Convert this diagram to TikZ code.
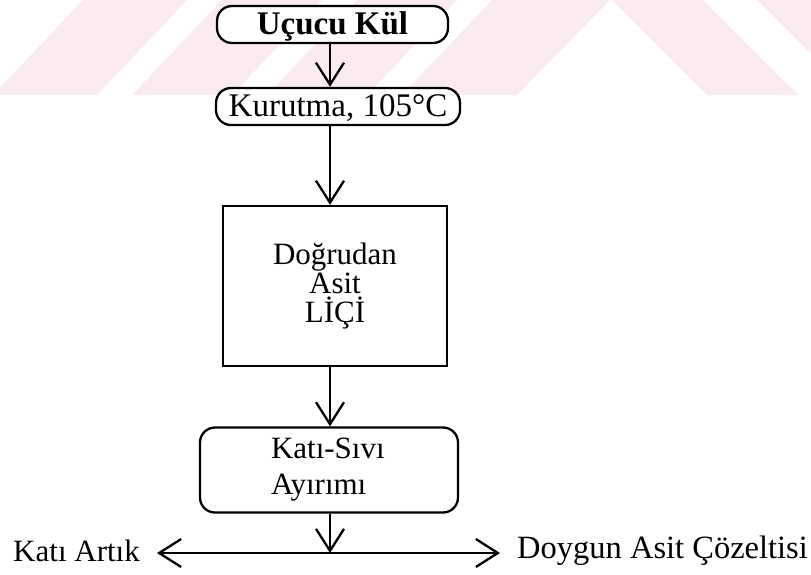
\documentclass[tikz,border=0pt]{standalone}
\usepackage{fontspec}
\setmainfont{Liberation Serif}
\usetikzlibrary{arrows.meta}

\begin{document}
\begin{tikzpicture}[x=1pt,y=-1pt,
	box/.style={draw, line width=2.3pt, fill=white, inner sep=0pt, font=\fontsize{31}{29}\selectfont},
	roundbox/.style={box, rounded corners=15pt},
	linebox/.style={roundbox, minimum height=37pt, text height=21pt, text depth=0pt, font=\fontsize{33}{36}\selectfont},
	flow/.style={line width=2.3pt, -{Straight Barb[length=22pt,width=28pt]}},
	sidetext/.style={inner sep=0pt, font=\fontsize{31}{36}\selectfont}]
	\definecolor{cMark}{HTML}{FCEBEE}

	\useasboundingbox (0,0) rectangle (811,575);

	\begin{scope}
		\clip (0,0) rectangle (811,95);
		\fill[cMark] (-7,95) -- (83,0) -- (187,0) -- (97,95) -- cycle;
		\fill[cMark] (132,95) -- (222,0) -- (322,0) -- (232,95) -- cycle;
		\fill[cMark] (267,95) -- (357,0) -- (457,0) -- (367,95) -- cycle;
		\fill[cMark] (402,95) -- (492,0) -- (610,0) -- (517,95) -- cycle;
		\fill[cMark] (612,0) -- (703,0) -- (798,95) -- (707,95) -- cycle;
		\fill[cMark] (757,0) -- (850,0) -- (945,95) -- (852,95) -- cycle;
	\end{scope}

	\coordinate (spine) at (330,0);
	\coordinate (split) at (330,553);

	\node[linebox, minimum width=231pt, font={\bfseries\fontsize{33}{36}\selectfont}] (kul) at (332.5,24.5) {Uçucu Kül};
	\node[linebox, minimum width=244pt] (kurutma) at (338,106.5) {Kurutma, 105°C};
	\node[box, minimum width=224pt, minimum height=160pt, align=center] (lic) at (335,286) {Doğrudan\\Asit\\LİÇİ};
	\node[roundbox, minimum width=258pt, minimum height=85pt, text width=116pt, align=left, font=\fontsize{31}{36}\selectfont] (ayirim) at (329,470) {Katı-Sıvı\\Ayırımı};

	\node[sidetext, anchor=east] (artik) at (140,551) {Katı Artık};
	\node[sidetext, anchor=west, font=\fontsize{32.5}{36}\selectfont] (cozelti) at (517,551) {Doygun Asit Çözeltisi};

	\draw[flow] (kul.south -| spine) -- (kurutma.north -| spine);
	\draw[flow] (kurutma.south -| spine) -- (lic.north -| spine);
	\draw[flow] (lic.south -| spine) -- (ayirim.north -| spine);
	\draw[flow] (ayirim.south -| spine) -- (split);
	\draw[flow, shorten >=17pt] (split) -- (split -| artik.east);
	\draw[flow, shorten >=17pt] (split) -- (split -| cozelti.west);
\end{tikzpicture}
\end{document}
